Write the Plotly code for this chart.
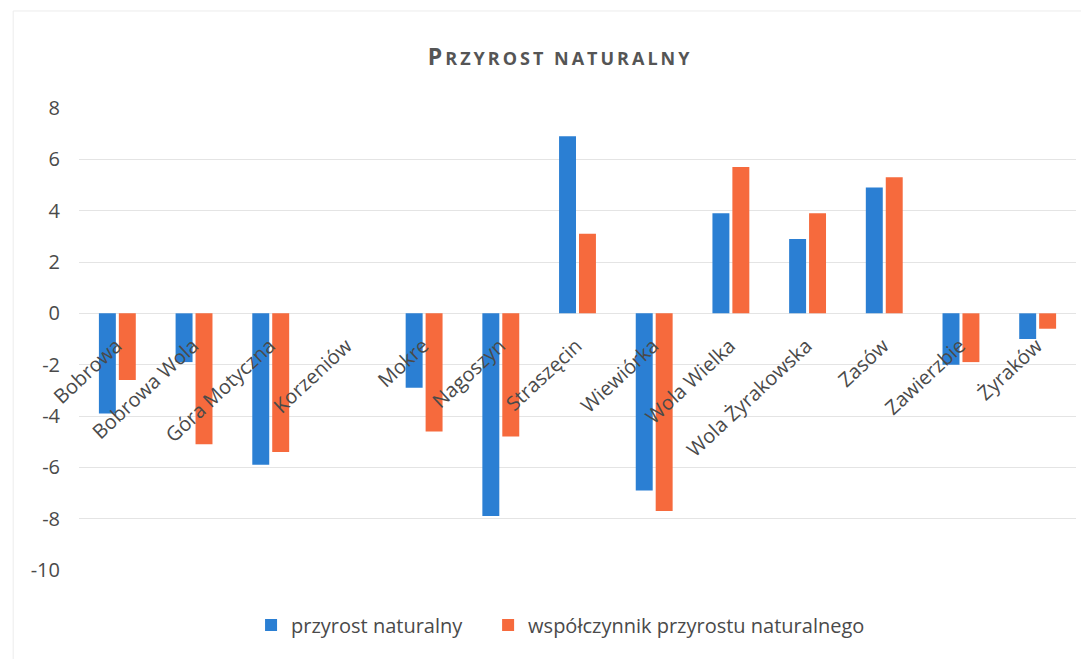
import plotly.graph_objects as go

# Data
miejscowosci = ["Bobrowa", "Bobrowa Wola", "Góra Motyczna", "Korzeniów", "Mokre",
                "Nagoszyn", "Straszęcin", "Wiewiórka", "Wola Wielka",
                "Wola Żyrakowska", "Zasów", "Zawierzbie", "Żyraków"]
przyrost = [-3.9, -1.9, -5.9, None, -2.9, -7.9, 6.9, -6.9, 3.9, 2.9, 4.9, -2.0, -1.0]
wspolczynnik = [-2.6, -5.1, -5.4, None, -4.6, -4.8, 3.1, -7.7, 5.7, 3.9, 5.3, -1.9, -0.6]
y_ticks = [8, 6, 4, 2, 0, -2, -4, -6, -8, -10]
y_ticktext = [str(v) for v in y_ticks]  # plain hyphen like Excel

FONT = "'Open Sans', Lato, sans-serif"
GREY = "#4a4a4a"
y_min, y_max = -10, 8

fig = go.Figure()

fig.add_trace(go.Bar(x=miejscowosci,
                     y=przyrost,
                     # trailing nbsp = extra gap between legend entries
                     name="przyrost naturalny\u00a0\u00a0\u00a0\u00a0",
                     marker=dict(color="#2b7fd3", line=dict(width=0)),
                     hoverinfo="skip"))

fig.add_trace(go.Bar(x=miejscowosci,
                     y=wspolczynnik,
                     name="współczynnik przyrostu naturalnego",
                     marker=dict(color="#f66a3d", line=dict(width=0)),
                     hoverinfo="skip"))

# small caps title like in Excel
title_txt = ("<b><span style='letter-spacing:3px'>P</span>"
             "<span style='font-size:18px;letter-spacing:3px'>RZYROST NATURALNY</span></b>")

fig.update_layout(width=1089,
                  height=659,
                  paper_bgcolor="white",
                  plot_bgcolor="white",
                  font=dict(family=FONT, color=GREY),
                  margin=dict(l=71, r=21, t=100, b=97),
                  title=dict(text=title_txt,
                             font=dict(size=23, color="#555555", family=FONT),
                             x=0.507,
                             xanchor="center",
                             y=0.925,
                             yanchor="middle"),
                  barmode="group",
                  bargap=0.48,
                  bargroupgap=0.15,
                  showlegend=True,
                  legend=dict(orientation="h",
                              xanchor="center",
                              x=0.483,
                              yanchor="middle",
                              y=-0.119,
                              font=dict(size=20, color=GREY, family=FONT),
                              itemwidth=30,
                              traceorder="normal"),
                  yaxis=dict(range=[y_min, y_max],
                             tickvals=y_ticks,
                             ticktext=y_ticktext,
                             tickfont=dict(size=20, color=GREY),
                             showgrid=True,
                             gridcolor="#e4e4e4",
                             gridwidth=1,
                             zeroline=False,
                             showline=False,
                             ticks="",
                             ticklabelstandoff=18),
                  xaxis=dict(anchor="free",
                             position=(0 - y_min) / (y_max - y_min),
                             tickangle=-43,
                             tickfont=dict(size=20, color=GREY),
                             showgrid=False,
                             zeroline=False,
                             showline=False,
                             ticks="",
                             ticklabelshift=-1,
                             ticklabelstandoff=16))

# faint frame of the chart area
fig.add_shape(type="rect", xref="paper", yref="paper",
              x0=-0.066, x1=1.02, y0=-0.2, y1=1.21,
              line=dict(color="#ececec", width=1))

fig.write_html("out.html")
